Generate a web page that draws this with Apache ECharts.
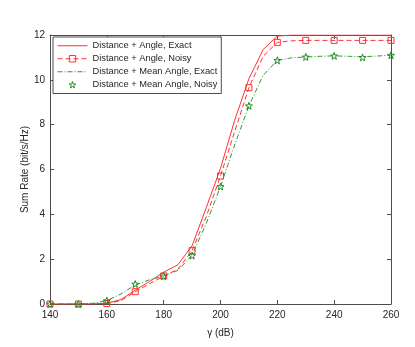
<!DOCTYPE html>
<html>
<head>
<meta charset="utf-8">
<script src="https://cdn.jsdelivr.net/npm/echarts@6/dist/echarts.min.js"></script>
<style>
html,body{margin:0;padding:0;background:#fff;}
#main{width:415px;height:347px;}
</style>
</head>
<body>
<div id="main"></div>
<script>
// gamma (dB), sampled every 5 dB; markers are drawn every 10 dB
var gammaDb = [140,145,150,155,160,165,170,175,180,185,190,195,200,205,210,215,220,225,230,235,240,245,250,255,260];
var distAngleExact = [0,0,0,0.01,0.03,0.2,0.62,1.0,1.42,1.75,2.6,4.3,6.05,8.2,10.05,11.35,11.95,12,12,12,12,12,12,12,12];
var distAngleNoisy = [0,0,0,0,0.02,0.15,0.55,0.9,1.25,1.55,2.38,3.9,5.71,7.7,9.65,11.05,11.67,11.74,11.76,11.76,11.76,11.76,11.76,11.76,11.76];
var meanAngleExact = [0,0,0,0.03,0.15,0.45,0.85,1.08,1.25,1.5,2.18,3.6,5.24,7.1,8.84,10.2,10.87,10.98,11.02,11.05,11.07,11.05,11.03,11.06,11.1];
var gammaMarks = [140,150,160,170,180,190,200,210,220,230,240,250,260];
var meanAngleNoisy = [0,0,0.15,0.89,1.25,2.16,5.24,8.84,10.87,11.02,11.07,11.0,11.1];

var names = ['Distance + Angle, Exact','Distance + Angle, Noisy','Distance + Mean Angle, Exact','Distance + Mean Angle, Noisy'];
var txt = '#262626';
var frame = '#4d4d4d';
var red = '#ff3030';
var green = '#2e9a2e';
var starGreen = '#1f8a1f';
var clear = 'rgba(255,255,255,0)';
var font = 'Liberation Sans, Arial, Helvetica, sans-serif';
var star = 'path://M0,-10L2.35,-3.24L9.51,-3.09L3.8,1.24L5.88,8.09L0,4L-5.88,8.09L-3.8,1.24L-9.51,-3.09L-2.35,-3.24Z';
var square = 'path://M0,0L10,0L10,10L0,10Z';

function pairs(xs, ys){
	var out = [];
	for (var i = 0; i < xs.length; i++) out.push([xs[i], ys[i]]);
	return out;
}
// noisy curve: keep a marker only on every 10 dB point
function markedPairs(xs, ys){
	var out = [];
	for (var i = 0; i < xs.length; i++) {
		if (xs[i] % 10 === 0) out.push([xs[i], ys[i]]);
		else out.push({value:[xs[i], ys[i]], symbol:'none'});
	}
	return out;
}

var myChart = echarts.init(document.getElementById('main'));

var xBase = {
	type:'value', min:140, max:260, interval:20,
	axisLine:{show:true, onZero:false, lineStyle:{color:frame, width:1}},
	axisTick:{show:true, inside:true, length:4, lineStyle:{color:frame}},
	splitLine:{show:false}
};
var yBase = {
	type:'value', min:0, max:12, interval:2,
	axisLine:{show:true, onZero:false, lineStyle:{color:frame, width:1}},
	axisTick:{show:true, inside:true, length:4, lineStyle:{color:frame}},
	splitLine:{show:false}
};

var option = {
	animation:false,
	textStyle:{fontFamily:font},
	grid:{left:50, right:24, top:35, bottom:43},
	legend:{
		data:[
			{name:names[0], itemStyle:{opacity:0}},
			{name:names[1], itemStyle:{color:clear, borderColor:red, borderWidth:1}},
			{name:names[2], itemStyle:{opacity:0}},
			{name:names[3], itemStyle:{color:clear, borderColor:starGreen, borderWidth:1}, lineStyle:{opacity:0}}
		],
		orient:'vertical',
		left:53, top:37,
		itemWidth:30, itemHeight:8, itemGap:1.5,
		padding:[3,4,3,4],
		backgroundColor:'#fff',
		borderColor:frame, borderWidth:1,
		lineStyle:{width:1},
		textStyle:{color:txt, fontSize:9.3, fontFamily:font, lineHeight:11.5}
	},
	xAxis:[
		Object.assign({}, xBase, {
			position:'bottom',
			name:'\u03b3 (dB)', nameLocation:'middle', nameGap:24,
			nameTextStyle:{color:txt, fontSize:10, fontFamily:font},
			axisLabel:{color:txt, fontSize:10, margin:6, fontFamily:font}
		}),
		Object.assign({}, xBase, {position:'top', axisLabel:{show:false}})
	],
	yAxis:[
		Object.assign({}, yBase, {
			position:'left',
			name:'Sum Rate (bit/s/Hz)', nameLocation:'middle', nameGap:20,
			nameMoveOverlap:false,
			nameTextStyle:{color:txt, fontSize:10, fontFamily:font},
			axisLabel:{color:txt, fontSize:10, margin:5, fontFamily:font}
		}),
		Object.assign({}, yBase, {position:'right', axisLabel:{show:false}})
	],
	series:[
		{
			name:names[0], type:'line', data:pairs(gammaDb, distAngleExact),
			symbol:'none', lineStyle:{color:red, width:1},
			itemStyle:{color:red}, z:3
		},
		{
			name:names[1], type:'line', data:markedPairs(gammaDb, distAngleNoisy),
			symbol:square, symbolSize:6, showAllSymbol:true,
			lineStyle:{color:red, width:1, type:[5,3]},
			itemStyle:{color:clear, borderColor:red, borderWidth:1}, z:4
		},
		{
			name:names[2], type:'line', data:pairs(gammaDb, meanAngleExact),
			symbol:'none', lineStyle:{color:green, width:1, type:[5,2,1,2]},
			itemStyle:{color:green}, z:3
		},
		{
			name:names[3], type:'line', data:pairs(gammaMarks, meanAngleNoisy),
			symbol:star, symbolSize:7, showAllSymbol:true,
			lineStyle:{width:0, opacity:0},
			itemStyle:{color:clear, borderColor:starGreen, borderWidth:1}, z:5
		}
	]
};
myChart.setOption(option);
</script>
</body>
</html>
